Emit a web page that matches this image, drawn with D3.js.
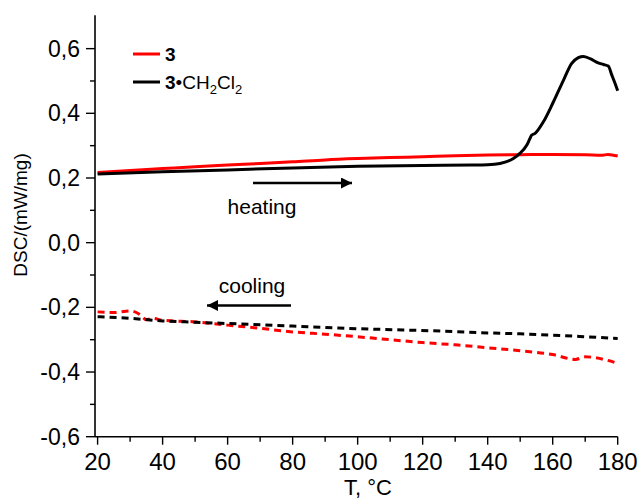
<!DOCTYPE html>
<html>
<head>
<meta charset="utf-8">
<script src="https://cdn.jsdelivr.net/npm/d3@7"></script>
<style>
  html, body { margin: 0; padding: 0; background: #fff; }
  text { font-family: "Liberation Sans", Arial, sans-serif; fill: #000; }
</style>
</head>
<body>
<svg id="chart" width="640" height="500"></svg>
<script>
// ---- data ----
const heat3T = [20,30,40,50,60,70,80,90,100,110,120,130,140,150,160,170,175,177,180];
const heat3V = [0.217,0.223,0.229,0.235,0.240,0.245,0.250,0.256,0.260,0.263,0.266,0.269,0.271,0.272,0.273,0.272,0.270,0.273,0.268];

const heatSolvT = [20,40,60,80,100,120,135,140,143.8,147.9,149.9,152,153,153.5,154.6,157.1,160.2,163.3,165.8,167.9,169.4,171.5,174,175.6,177.1,178.2,179.2,180];
const heatSolvV = [0.212,0.219,0.225,0.231,0.236,0.239,0.240,0.241,0.245,0.260,0.276,0.301,0.322,0.332,0.338,0.373,0.435,0.502,0.554,0.572,0.576,0.569,0.556,0.551,0.546,0.518,0.492,0.470];

const cool3T = [20,25,30,33,35,37,40,50,60,70,80,90,100,110,120,130,140,150,160,167,170,180];
const cool3V = [-0.214,-0.216,-0.211,-0.222,-0.238,-0.234,-0.240,-0.245,-0.255,-0.265,-0.276,-0.283,-0.291,-0.300,-0.309,-0.316,-0.325,-0.334,-0.346,-0.361,-0.353,-0.373];

const coolSolvT = [20,30,40,50,60,70,80,90,100,114,130,140,150,160,170,180];
const coolSolvV = [-0.229,-0.234,-0.242,-0.246,-0.250,-0.254,-0.258,-0.262,-0.266,-0.270,-0.275,-0.279,-0.282,-0.286,-0.291,-0.296];

const xMajor = [20,40,60,80,100,120,140,160,180];
const xMinor = [30,50,70,90,110,130,150,170];
const yMajor = [-0.6,-0.4,-0.2,0.0,0.2,0.4,0.6];
const yMinor = [-0.5,-0.3,-0.1,0.1,0.3,0.5];

// ---- layout ----
const svg = d3.select("#chart");
const x = d3.scaleLinear().domain([19.2, 180]).range([95, 617.7]);
const y = d3.scaleLinear().domain([-0.6, 0.7]).range([436.7, 16.3]);
const fmt = v => d3.format(".1f")(v).replace(".", ",").replace("−", "-");

// axes
const gx = svg.append("g").attr("transform", `translate(0,${y(-0.6)})`);
gx.append("line").attr("x1", x.range()[0]).attr("x2", x(180)).attr("stroke", "#000").attr("stroke-width", 1.6);
gx.selectAll(".maj").data(xMajor).join("line")
  .attr("x1", d => x(d)).attr("x2", d => x(d)).attr("y1", 0).attr("y2", 8)
  .attr("stroke", "#000").attr("stroke-width", 1.4);
gx.selectAll(".min").data(xMinor).join("line")
  .attr("x1", d => x(d)).attr("x2", d => x(d)).attr("y1", 0).attr("y2", 5)
  .attr("stroke", "#000").attr("stroke-width", 1.4);
gx.selectAll("text").data(xMajor).join("text")
  .attr("x", d => x(d)).attr("y", 33).attr("text-anchor", "middle")
  .style("font-size", "24px").text(d => d);

const gy = svg.append("g").attr("transform", `translate(${x.range()[0]},0)`);
gy.append("line").attr("y1", y.range()[1] - 1).attr("y2", y(-0.6)).attr("stroke", "#000").attr("stroke-width", 1.6);
gy.selectAll(".maj").data(yMajor).join("line")
  .attr("y1", d => y(d)).attr("y2", d => y(d)).attr("x1", 0).attr("x2", -9)
  .attr("stroke", "#000").attr("stroke-width", 1.4);
gy.selectAll(".min").data(yMinor).join("line")
  .attr("y1", d => y(d)).attr("y2", d => y(d)).attr("x1", 0).attr("x2", -5)
  .attr("stroke", "#000").attr("stroke-width", 1.4);
gy.selectAll("text").data(yMajor).join("text")
  .attr("x", -15).attr("y", d => y(d)).attr("dy", "0.35em").attr("text-anchor", "end")
  .style("font-size", "23px").text(d => fmt(d));

// axis titles
svg.append("text").attr("transform", "translate(27,215) rotate(-90)")
  .attr("text-anchor", "middle").style("font-size", "19px").text("DSC/(mW/mg)");
svg.append("text").attr("x", 368).attr("y", 495).attr("text-anchor", "middle")
  .style("font-size", "22px").text("T, °C");

// lines
const line = d3.line().x(d => x(d[0])).y(d => y(d[1])).curve(d3.curveMonotoneX);
const series = [
  {T: cool3T, V: cool3V, color: "#ff0000", dash: "7,5"},
  {T: coolSolvT, V: coolSolvV, color: "#000000", dash: "7,5"},
  {T: heat3T, V: heat3V, color: "#ff0000", dash: null},
  {T: heatSolvT, V: heatSolvV, color: "#000000", dash: null}
];
series.forEach(s => {
  svg.append("path").datum(d3.zip(s.T, s.V))
    .attr("d", line).attr("fill", "none")
    .attr("stroke", s.color).attr("stroke-width", 3)
    .attr("stroke-linejoin", "round")
    .attr("stroke-dasharray", s.dash);
});

// legend
svg.append("line").attr("x1", 133).attr("x2", 160).attr("y1", 54).attr("y2", 54).attr("stroke", "#ff0000").attr("stroke-width", 3);
svg.append("text").attr("x", 165).attr("y", 61).style("font-size", "19px").style("font-weight", "bold").text("3");
svg.append("line").attr("x1", 133).attr("x2", 160).attr("y1", 82).attr("y2", 82).attr("stroke", "#000").attr("stroke-width", 3);
const lt = svg.append("text").attr("x", 165).attr("y", 89).style("font-size", "19px");
lt.append("tspan").style("font-weight", "bold").text("3");
lt.append("tspan").text("•CH");
lt.append("tspan").attr("dy", 5).style("font-size", "13px").text("2");
lt.append("tspan").attr("dy", -5).text("Cl");
lt.append("tspan").attr("dy", 5).style("font-size", "13px").text("2");

// annotations
svg.append("defs").append("marker").attr("id", "ah")
  .attr("viewBox", "0 0 10 10").attr("refX", 10).attr("refY", 5)
  .attr("markerUnits", "userSpaceOnUse").attr("markerWidth", 17).attr("markerHeight", 11)
  .attr("orient", "auto")
  .append("path").attr("d", "M0,0 L10,5 L0,10 Z").attr("fill", "#000");
svg.append("line").attr("x1", 253).attr("x2", 352).attr("y1", 183).attr("y2", 183)
  .attr("stroke", "#000").attr("stroke-width", 2.6).attr("marker-end", "url(#ah)");
svg.append("text").attr("x", 262).attr("y", 214).attr("text-anchor", "middle").style("font-size", "21px").text("heating");
svg.append("line").attr("x1", 291).attr("x2", 207).attr("y1", 305.5).attr("y2", 305.5)
  .attr("stroke", "#000").attr("stroke-width", 2.6).attr("marker-end", "url(#ah)");
svg.append("text").attr("x", 252).attr("y", 293).attr("text-anchor", "middle").style("font-size", "21px").text("cooling");
</script>
</body>
</html>
